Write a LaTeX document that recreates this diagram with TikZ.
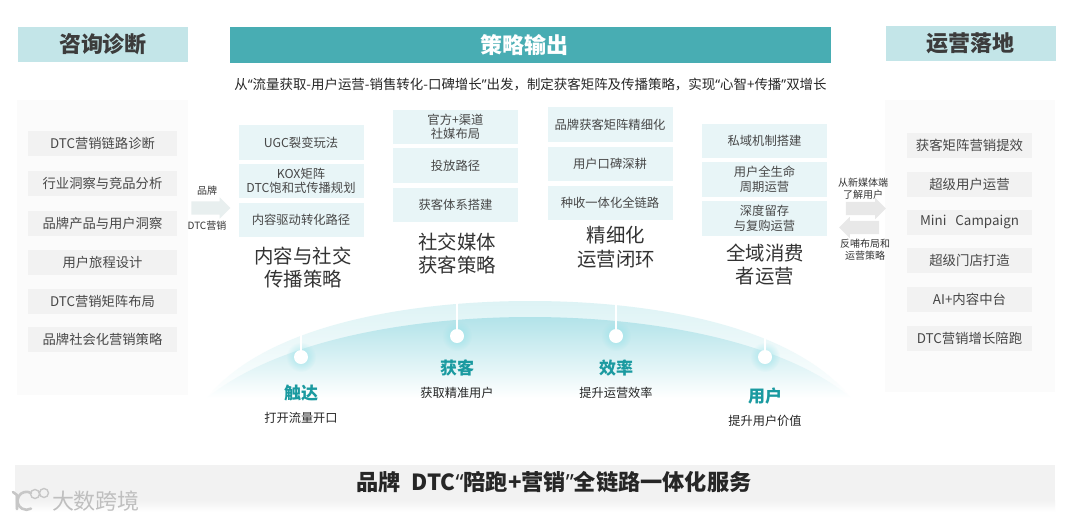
\documentclass[tikz,border=0pt]{standalone}
\usepackage{fontspec}
\setmainfont{Noto Sans CJK SC}
\newfontfamily\narrowq{Noto Sans}
\newcommand{\qopen}{{\narrowq “}}
\newcommand{\qclose}{{\narrowq ”}}
\usetikzlibrary{shapes.arrows,fadings}
\tikzfading[name=glowfade, inner color=transparent!25, outer color=transparent!100]
\definecolor{hdrlight}{HTML}{C3E5E8}
\definecolor{hdrdark}{HTML}{48ADB3}
\definecolor{inktext}{HTML}{3C3C3C}
\definecolor{itembg}{HTML}{F2F2F2}
\definecolor{panelbg}{HTML}{FBFBFB}
\definecolor{cellbg}{HTML}{E8F5F7}
\definecolor{tealtext}{HTML}{1A9AA0}
\definecolor{domeinner}{HTML}{B2E3E9}
\definecolor{domeouter}{HTML}{DDF3F5}
\definecolor{glowc}{HTML}{8FE0E8}
\definecolor{arrowa}{HTML}{E8EFEF}
\tikzset{
 x=1pt,y=-1pt,
 every node/.style={inner sep=0pt,outer sep=0pt,align=center,text=inktext},
 hdr/.style={minimum width=#1,minimum height=35pt,font=\fontsize{22}{26}\selectfont\bfseries},
 itembox/.style={fill=itembg,minimum height=25pt,text=black!72},
 leftitem/.style={itembox,minimum width=149pt,font=\fontsize{13.3}{16}\selectfont},
 rightitem/.style={itembox,minimum width=125pt,font=\fontsize{13.4}{16}\selectfont},
 cell/.style={fill=cellbg,minimum width=125pt,minimum height=34.5pt,font=\fontsize{12.3}{14.5}\selectfont,text=black!72},
 coltitle/.style={font=\fontsize{19.4}{23.5}\selectfont,text=black!80},
 stage/.style={font=\fontsize{17}{20}\selectfont\bfseries,text=tealtext},
 sublabel/.style={font=\fontsize{12.2}{14}\selectfont,text=black!85},
 smalllabel/.style={font=\fontsize{10}{11.5}\selectfont,text=black!80},
 dot/.style={circle,fill=white,minimum size=14pt},
 glow/.style={circle,fill=glowc,path fading=glowfade,minimum size=30pt},
 stem/.style={white,line width=1.6pt},
 blockarrow/.style={single arrow,fill=#1,inner ysep=6.5pt,inner xsep=0pt,minimum width=21pt,single arrow head extend=4pt,single arrow head indent=0pt,minimum height=40pt},
}
\begin{document}
\begin{tikzpicture}
\useasboundingbox (0,0) rectangle (1080,520);
\fill[white] (0,0) rectangle (1080,520);
% panels
\fill[panelbg] (17,100) rectangle (188,395);
\fill[panelbg] (885,100) rectangle (1055,392);
% headers
\node[hdr=170pt,fill=hdrlight] (h1) at (103,44.5) {咨询诊断};
\node[hdr=601pt,minimum height=36pt,fill=hdrdark,text=white] (h2) at (530.5,45) {\kern-12pt策略输出};
\node[hdr=170pt,fill=hdrlight] (h3) at (970.5,43) {运营落地};
\node[font=\fontsize{13.45}{15}\selectfont,text=black!85] (sub) at (530.5,85) {从\qopen 流量获取-用户运营-销售转化-口碑增长\qclose 出发，制定获客矩阵及传播策略，实现\qopen 心智+传播\qclose 双增长};
% left items
\node[leftitem] (l1) at (102.5,143.5) {DTC营销链路诊断};
\node[leftitem] (l2) at (102.5,183) {行业洞察与竞品分析};
\node[leftitem] (l3) at (102.5,223) {品牌产品与用户洞察};
\node[leftitem] (l4) at (102.5,262.5) {用户旅程设计};
\node[leftitem] (l5) at (102.5,301) {DTC营销矩阵布局};
\node[leftitem] (l6) at (102.5,339.5) {品牌社会化营销策略};
% right items
\node[rightitem] (r1) at (969.5,145) {获客矩阵营销提效};
\node[rightitem] (r2) at (969.5,184) {超级用户运营};
\node[rightitem] (r3) at (969.5,222) {Mini\ \ \ Campaign};
\node[rightitem] (r4) at (969.5,260) {超级门店打造};
\node[rightitem] (r5) at (969.5,299) {AI+内容中台};
\node[rightitem] (r6) at (969.5,338) {DTC营销增长陪跑};
% column 1
\node[cell] (a1) at (301,142.5) {UGC裂变玩法};
\node[cell] (a2) at (301,181) {KOX矩阵\\DTC饱和式传播规划};
\node[cell] (a3) at (301,220) {内容驱动转化路径};
\node[coltitle] (at) at (303,267.5) {内容与社交\\传播策略};
% column 2
\node[cell] (b1) at (455.5,127) {官方+渠道\\社媒布局};
\node[cell] (b2) at (455.5,165.5) {投放路径};
\node[cell] (b3) at (455.5,205) {获客体系搭建};
\node[coltitle] (bt) at (457,253.5) {社交媒体\\获客策略};
% column 3
\node[cell] (c1) at (610,124.5) {品牌获客矩阵精细化};
\node[cell] (c2) at (610,164) {用户口碑深耕};
\node[cell] (c3) at (610,203) {种收一体化全链路};
\node[coltitle] (ct) at (616,247) {精细化\\运营闭环};
% column 4
\node[cell] (d1) at (764.5,141) {私域机制搭建};
\node[cell] (d2) at (764.5,179.5) {用户全生命\\周期运营};
\node[cell] (d3) at (764.5,218.5) {深度留存\\与复购运营};
\node[coltitle] (dt) at (765,264.5) {全域消费\\者运营};
% arrows and labels
\node[blockarrow=arrowa,minimum height=39pt] (ar1) at (207.5,208) {};
\node[smalllabel] (al1) at (207,191) {品牌};
\node[smalllabel] (al2) at (207,225.5) {DTC营销};
\node[blockarrow=black!9] (ar2) at (862.5,208.5) {};
\node[blockarrow=black!9,shape border rotate=180] (ar3) at (862.5,227.5) {};
\node[smalllabel] (al3) at (863,188.5) {从新媒体端\\了解用户};
\node[smalllabel] (al4) at (865,249.5) {反哺布局和\\运营策略};
% dome
\shade[top color=domeouter,bottom color=white]
  (207,398) .. controls (262,328) and (400,301) .. (530,301) .. controls (660,301) and (795,328) .. (851,398) -- cycle;
\shade[top color=domeinner,bottom color=white]
  (207,398) .. controls (275,342) and (405,317) .. (530,317) .. controls (655,317) and (785,342) .. (851,398) -- cycle;
% dots
\node[glow] (g1) at (301,357) {};
\node[glow] (g2) at (457,336) {};
\node[glow] (g3) at (616,336) {};
\node[glow] (g4) at (765,357) {};
\coordinate (t1) at (301,318);
\coordinate (t2) at (457,296);
\coordinate (t3) at (616,296);
\coordinate (t4) at (765,318);
\node[dot] (p1) at (301,357) {};
\node[dot] (p2) at (457,336) {};
\node[dot] (p3) at (616,336) {};
\node[dot] (p4) at (765,357) {};
\draw[stem] (p1) -- (t1);
\draw[stem] (p2) -- (t2);
\draw[stem] (p3) -- (t3);
\draw[stem] (p4) -- (t4);
\node[stage] (s1) at (301,393.5) {触达};
\node[stage] (s2) at (457,368) {获客};
\node[stage] (s3) at (616,368) {效率};
\node[stage] (s4) at (765,396) {用户};
\node[sublabel] (u1) at (301,418) {打开流量开口};
\node[sublabel] (u2) at (457,393) {获取精准用户};
\node[sublabel] (u3) at (616,393) {提升运营效率};
\node[sublabel] (u4) at (765,421) {提升用户价值};
% bottom bar
\shade[top color=itembg,bottom color=white] (15,500) rectangle (1055,512);
\node[fill=itembg,minimum width=1040pt,minimum height=35pt] (bar) at (535,482.5) {};
\node[font=\fontsize{22.2}{26}\selectfont\bfseries,text=black!85] (bt2) at (554,482) {品牌\kern6pt~DTC{\narrowq\bfseries “}陪跑+营销{\narrowq\bfseries ”}全链路一体化服务};
% watermark
\draw[black!22,line width=2.6pt,line cap=round] (13,492) -- (17,495) -- (17,509);
\draw[black!22,line width=2.6pt,line cap=round] (31,493) arc[start angle=60,end angle=300,radius=9pt];
\draw[black!22,line width=1.4pt] (35,494) circle[radius=4.5pt] (44,493) circle[radius=4.5pt];
\node[font=\fontsize{22}{26}\selectfont,text=black!25] (wm) at (96,501) {大数跨境};
\end{tikzpicture}
\end{document}
